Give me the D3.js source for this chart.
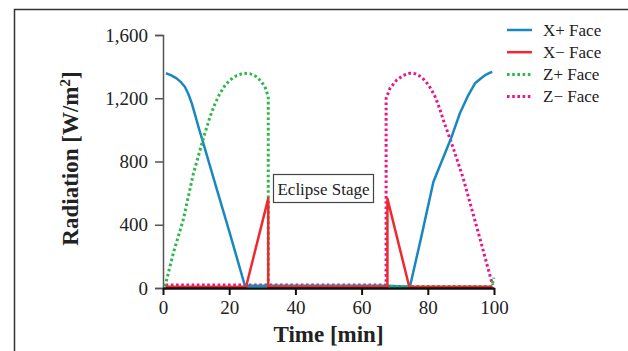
<!DOCTYPE html>
<html>
<head>
<meta charset="utf-8">
<script src="https://cdn.jsdelivr.net/npm/d3@7"></script>
<style>
  body { margin: 0; background: #fff; }
  text { font-family: "Liberation Serif", "DejaVu Serif", serif; fill: #222; }
</style>
</head>
<body>
<div id="chart"></div>
<script>
// series data (time in min, radiation in W/m2)
const xPlusT = [0.9, 2.5, 4.1, 5.5, 6.6, 7.7, 8.7, 9.7, 10.7, 12.2, 15.2, 20, 24.8, 25.2, 50, 67.8, 74.6, 78, 81.7, 84, 87, 89.7, 92, 94.3, 96, 97.5, 98.8, 99.5];
const xPlusV = [1358, 1345, 1326, 1300, 1273, 1225, 1168, 1095, 1020, 915, 700, 360, 10, 15, 15, 15, 8, 320, 672, 790, 945, 1105, 1210, 1295, 1325, 1348, 1362, 1366];

const xMinusT = [0.8, 25.1, 31.8, 31.8, 50, 67.8, 67.8, 74.4, 99.5];
const xMinusV = [8, 8, 567, 8, 8, 8, 565, 8, 8];

const zPlusT = [0.6, 3.1, 6.1, 9.2, 10.7, 12.2, 14.2, 15.7, 17.2, 18.7, 20.2, 22.2, 24.3, 26.3, 28.3, 29.7, 30.8, 31.8, 31.8, 50, 67, 99.3, 100];
const zPlusV = [10, 219, 430, 725, 835, 947, 1083, 1165, 1231, 1280, 1315, 1343, 1358, 1355, 1336, 1305, 1273, 1210, 10, 10, 10, 10, 65];

const zMinusT = [0.8, 30, 67.4, 67.4, 68.6, 70.6, 72.6, 74.6, 76.2, 77.6, 79, 80.2, 81.2, 82.2, 83.5, 84.7, 87.2, 90.7, 95, 99.3, 99.6];
const zMinusV = [19, 19, 19, 1200, 1263, 1315, 1345, 1358, 1355, 1340, 1315, 1284, 1250, 1210, 1140, 1062, 915, 694, 370, 40, 19];

const seriesNames = ['X+ Face', 'X\u2212 Face', 'Z+ Face', 'Z\u2212 Face'];
const seriesColors = ['#1b87c1', '#ee2a2e', '#2fb84a', '#e8168b'];
const seriesDashed = [false, false, true, true];

const xTicks = [0, 20, 40, 60, 80, 100];
const yTicks = [0, 400, 800, 1200, 1600];

let width = 628, height = 351;

let svg = d3.select('#chart').append('svg')
    .attr('width', width)
    .attr('height', height);

// outer frame (only left and top edges visible)
svg.append('path')
    .attr('d', 'M14.5,' + height + ' L14.5,9.5 L' + width + ',9.5')
    .attr('fill', 'none')
    .attr('stroke', '#333')
    .attr('stroke-width', 1.5);

let x = d3.scaleLinear().domain([0, 100]).range([163, 494]);
let y = d3.scaleLinear().domain([0, 1600]).range([288, 35]);

// y axis
let yAxis = svg.append('g')
    .attr('transform', 'translate(163,0)')
    .call(d3.axisLeft(y).tickValues(yTicks).tickSize(8).tickPadding(7).tickFormat(d3.format(',')));
yAxis.select('.domain').attr('stroke', '#555').attr('stroke-width', 1.5);
yAxis.selectAll('.tick line').attr('stroke', '#555').attr('stroke-width', 1.5);
yAxis.selectAll('.tick text')
    .style('font-family', '"Liberation Serif", serif')
    .style('font-size', '19px')
    .attr('fill', '#222');

let allData = [
    d3.zip(xPlusT, xPlusV),
    d3.zip(xMinusT, xMinusV),
    d3.zip(zPlusT, zPlusV),
    d3.zip(zMinusT, zMinusV)
];

let line = d3.line()
    .x(d => x(d[0]))
    .y(d => y(d[1]));

// draw order: Z- under, then X+, Z+, X- on top near zero
let order = [3, 0, 2, 1];
for (let i of order) {
    svg.append('path')
        .datum(allData[i])
        .attr('d', line)
        .attr('fill', 'none')
        .attr('stroke', seriesColors[i])
        .attr('stroke-width', seriesDashed[i] ? 3 : 2.5)
        .attr('stroke-dasharray', seriesDashed[i] ? '2.6,2.6' : null)
        .attr('stroke-linejoin', 'round');
}

// x axis (drawn on top)
let xAxis = svg.append('g')
    .attr('transform', 'translate(0,288)')
    .call(d3.axisBottom(x).tickValues(xTicks).tickSize(7).tickPadding(6).tickSizeOuter(0));
xAxis.select('.domain').attr('stroke', '#111').attr('stroke-width', 2.5);
xAxis.selectAll('.tick line').attr('stroke', '#111').attr('stroke-width', 2);
xAxis.selectAll('.tick text')
    .style('font-family', '"Liberation Serif", serif')
    .style('font-size', '19px')
    .attr('fill', '#222');

// axis titles
svg.append('text')
    .attr('x', (x(0) + x(100)) / 2)
    .attr('y', 342)
    .attr('text-anchor', 'middle')
    .style('font-size', '23px')
    .style('font-weight', 'bold')
    .text('Time [min]');

let yt = svg.append('text')
    .attr('transform', 'translate(78,' + (y(800) - 3) + ') rotate(-90)')
    .attr('text-anchor', 'middle')
    .style('font-size', '23px')
    .style('font-weight', 'bold');
yt.append('tspan').text('Radiation [W/m');
yt.append('tspan').attr('dy', -8).style('font-size', '15px').text('2');
yt.append('tspan').attr('dy', 8).text(']');

// eclipse stage annotation
let note = svg.append('g');
note.append('rect')
    .attr('x', 273.5).attr('y', 174.5)
    .attr('width', 100).attr('height', 28)
    .attr('fill', '#fff')
    .attr('stroke', '#444')
    .attr('stroke-width', 1.2);
note.append('text')
    .attr('x', 323.5).attr('y', 194.5)
    .attr('text-anchor', 'middle')
    .style('font-size', '17px')
    .text('Eclipse Stage');

// legend
let leg = svg.append('g');
for (let i = 0; i < seriesNames.length; i++) {
    let ly = 30 + i * 22.2;
    leg.append('line')
        .attr('x1', 507).attr('x2', 532)
        .attr('y1', ly).attr('y2', ly)
        .attr('stroke', seriesColors[i])
        .attr('stroke-width', seriesDashed[i] ? 3 : 2.5)
        .attr('stroke-dasharray', seriesDashed[i] ? '2.6,2.6' : null);
    leg.append('text')
        .attr('x', 543).attr('y', ly + 5.5)
        .style('font-size', '17px')
        .text(seriesNames[i]);
}
</script>
</body>
</html>
